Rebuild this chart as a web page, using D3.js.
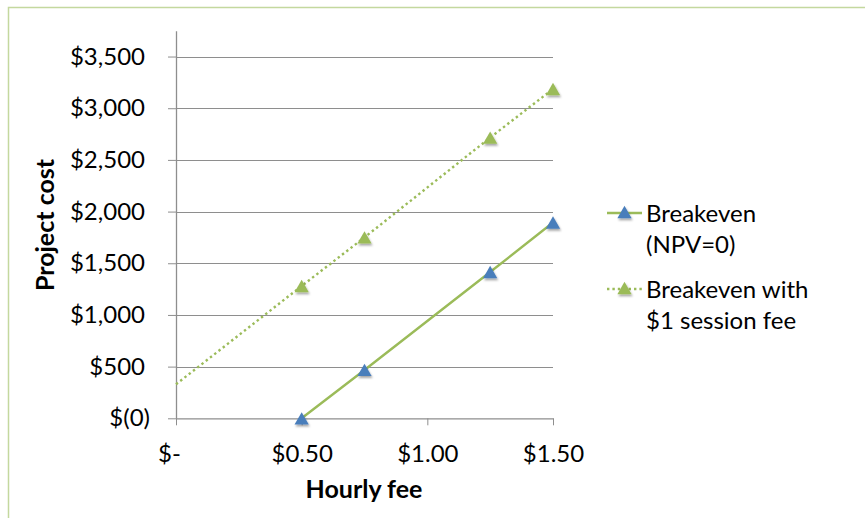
<!DOCTYPE html>
<html>
<head>
<meta charset="utf-8">
<script src="https://cdn.jsdelivr.net/npm/d3@7"></script>
<style>
  html, body { margin: 0; padding: 0; background: #fff; }
  svg { display: block; font-family: Lato, "Open Sans", sans-serif; }
</style>
</head>
<body>
<svg id="chart" width="865" height="518"></svg>
<script>
// Hourly fee (x) and project cost at breakeven (y)
const xTicks = [0, 0.5, 1, 1.5];
const yTicks = [0, 500, 1000, 1500, 2000, 2500, 3000, 3500];

const breakevenFee = [0.5, 0.75, 1.25, 1.5];
const breakevenCost = [0, 468, 1415, 1894];

const sessionFee = [0, 0.5, 0.75, 1.25, 1.5];
const sessionCost = [329, 1280, 1750, 2716, 3186];
const sessionMarker = [false, true, true, true, true];

const seriesNames = [["Breakeven", "(NPV=0)"], ["Breakeven with", "$1 session fee"]];

const lineGreen = "#9BBB59";
const markerBlue = "#4A7EBB";
const markerGreen = "#9BBB59";
const axisGrey = "#8E8E8E";
const labelSize = 24;
const titleSize = 25;

const svg = d3.select("#chart");

// outer chart frame
svg.append("rect")
  .attr("x", 8.5).attr("y", 7.5)
  .attr("width", 1000).attr("height", 1000)
  .attr("fill", "none")
  .attr("stroke", "#C4D89E")
  .attr("stroke-width", 1.5);

const defs = svg.append("defs");
const shadow = defs.append("filter").attr("id", "markerShadow")
  .attr("x", "-50%").attr("y", "-50%").attr("width", "200%").attr("height", "200%");
shadow.append("feDropShadow")
  .attr("dx", 1).attr("dy", 2).attr("stdDeviation", 1.3)
  .attr("flood-color", "#000").attr("flood-opacity", 0.35);

const x = d3.scaleLinear().domain([0, 1.5]).range([176, 553]);
const y = d3.scaleLinear().domain([0, 3750]).range([418.3, 30.7]);

// horizontal gridlines
svg.append("g")
  .selectAll("line")
  .data(yTicks.filter(d => d > 0))
  .join("line")
  .attr("x1", x(0)).attr("x2", x(1.5))
  .attr("y1", d => Math.round(y(d)) + 0.5).attr("y2", d => Math.round(y(d)) + 0.5)
  .attr("stroke", axisGrey).attr("stroke-width", 1);

// y axis
const yAxis = svg.append("g")
  .attr("transform", `translate(${x(0)},0)`)
  .call(d3.axisLeft(y).tickValues(yTicks).tickSize(8).tickSizeOuter(0)
    .tickFormat(d => d === 0 ? "$(0)" : "$" + d3.format(",")(d)));
yAxis.select(".domain").attr("stroke", axisGrey).attr("stroke-width", 1.3);
yAxis.selectAll(".tick line").attr("stroke", axisGrey);
yAxis.selectAll(".tick text")
  .attr("x", d => d === 0 ? -26 : -31)
  .attr("font-size", labelSize)
  .attr("fill", "#000")
  .attr("font-family", "Lato, sans-serif");

// x axis
const xAxis = svg.append("g")
  .attr("transform", `translate(0,${y(0)})`)
  .call(d3.axisBottom(x).tickValues(xTicks).tickSize(7).tickSizeOuter(0)
    .tickFormat(d => d === 0 ? "$-" : "$" + d3.format(".2f")(d)));
xAxis.select(".domain").attr("stroke", axisGrey).attr("stroke-width", 1.3);
xAxis.selectAll(".tick line").attr("stroke", axisGrey);
xAxis.selectAll(".tick text")
  .attr("y", 43.5)
  .attr("dy", 0)
  .attr("dx", d => d === 0 ? -7 : 0)
  .attr("font-size", labelSize)
  .attr("fill", "#000")
  .attr("font-family", "Lato, sans-serif");

// axis titles
svg.append("text")
  .attr("x", (x(0) + x(1.5)) / 2 - 0.5).attr("y", 498)
  .attr("text-anchor", "middle")
  .attr("font-size", titleSize).attr("font-weight", "bold")
  .text("Hourly fee");

svg.append("text")
  .attr("transform", "translate(54,225) rotate(-90)")
  .attr("text-anchor", "middle")
  .attr("font-size", titleSize).attr("font-weight", "bold")
  .text("Project cost");

const line = d3.line().x(d => x(d[0])).y(d => y(d[1]));
const triSize = 88;
const tri = d3.symbol().type(d3.symbolTriangle).size(triSize);
// d3's triangle is centred on its centroid; shift so its box centre sits on the point
const triShift = Math.sqrt(triSize * 4 / Math.sqrt(3)) * Math.sqrt(3) / 2 / 6;

// session-fee series (dotted)
const sessionPts = sessionFee.map((f, i) => [f, sessionCost[i], sessionMarker[i]]);
svg.append("path")
  .datum(sessionPts)
  .attr("d", line)
  .attr("fill", "none")
  .attr("stroke", lineGreen)
  .attr("stroke-width", 2.4)
  .attr("stroke-dasharray", "2.4 3");

// breakeven series (solid)
const breakevenPts = breakevenFee.map((f, i) => [f, breakevenCost[i]]);
svg.append("path")
  .datum(breakevenPts)
  .attr("d", line)
  .attr("fill", "none")
  .attr("stroke", lineGreen)
  .attr("stroke-width", 2.4);

svg.append("g").attr("filter", "url(#markerShadow)")
  .selectAll("path")
  .data(sessionPts.filter(d => d[2]))
  .join("path")
  .attr("transform", d => `translate(${x(d[0])},${y(d[1]) + triShift})`)
  .attr("d", tri)
  .attr("fill", markerGreen);

svg.append("g").attr("filter", "url(#markerShadow)")
  .selectAll("path")
  .data(breakevenPts)
  .join("path")
  .attr("transform", d => `translate(${x(d[0])},${y(d[1]) + triShift})`)
  .attr("d", tri)
  .attr("fill", markerBlue);

// legend
const legendItems = [
  { name: seriesNames[0], marker: markerBlue, dash: null, top: 222 },
  { name: seriesNames[1], marker: markerGreen, dash: "2.4 3", top: 298 }
];
const lg = svg.append("g");
legendItems.forEach(item => {
  const g = lg.append("g");
  const cy = item.top - 9;
  g.append("line")
    .attr("x1", 607).attr("x2", 642)
    .attr("y1", cy).attr("y2", cy)
    .attr("stroke", lineGreen).attr("stroke-width", 2.4)
    .attr("stroke-dasharray", item.dash);
  g.append("path")
    .attr("transform", `translate(624.5,${cy + triShift - 1})`)
    .attr("d", tri)
    .attr("fill", item.marker)
    .attr("filter", "url(#markerShadow)");
  const t = g.append("text")
    .attr("x", 646).attr("y", item.top)
    .attr("font-size", labelSize).attr("fill", "#000");
  item.name.forEach((s, i) => {
    t.append("tspan").attr("x", 646).attr("dy", i === 0 ? 0 : 31).text(s);
  });
});
</script>
</body>
</html>
